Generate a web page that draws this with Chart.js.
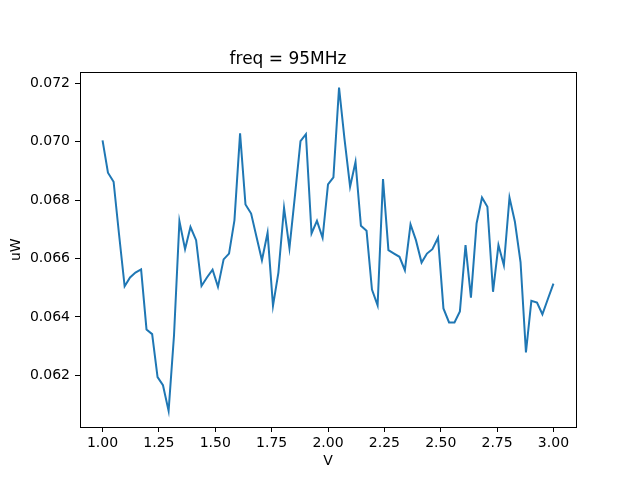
<!DOCTYPE html>
<html>
<head>
<meta charset="utf-8">
<script src="https://cdn.jsdelivr.net/npm/chart.js@4/dist/chart.umd.min.js"></script>
<style>
  html, body { margin: 0; padding: 0; background: #fff; }
  #chart { display: block; }
</style>
</head>
<body>
<canvas id="chart" width="640" height="480"></canvas>
<script>
// 电压 (V)
const voltage = [
  1.000, 1.024, 1.049, 1.073, 1.098, 1.122, 1.146, 1.171, 1.195, 1.220,
  1.244, 1.268, 1.293, 1.317, 1.341, 1.366, 1.390, 1.415, 1.439, 1.463,
  1.488, 1.512, 1.537, 1.561, 1.585, 1.610, 1.634, 1.659, 1.683, 1.707,
  1.732, 1.756, 1.780, 1.805, 1.829, 1.854, 1.878, 1.902, 1.927, 1.951,
  1.976, 2.000, 2.024, 2.049, 2.073, 2.098, 2.122, 2.146, 2.171, 2.195,
  2.220, 2.244, 2.268, 2.293, 2.317, 2.341, 2.366, 2.390, 2.415, 2.439,
  2.463, 2.488, 2.512, 2.537, 2.561, 2.585, 2.610, 2.634, 2.659, 2.683,
  2.707, 2.732, 2.756, 2.780, 2.805, 2.829, 2.854, 2.878, 2.902, 2.927,
  2.951, 2.976, 3.000
];

// 功率 (uW)
const power = [
  0.07005, 0.06894, 0.06863, 0.06684, 0.06505, 0.06535, 0.06552, 0.06563, 0.06357, 0.06341,
  0.06194, 0.06166, 0.06078, 0.06337, 0.06728, 0.06632, 0.06708, 0.06663, 0.06506, 0.06535,
  0.06562, 0.06503, 0.06597, 0.06617, 0.06731, 0.07029, 0.06785, 0.06754, 0.06674, 0.06594,
  0.06688, 0.06438, 0.06552, 0.06774, 0.06636, 0.06820, 0.07002, 0.07026, 0.06686, 0.06729,
  0.06671, 0.06854, 0.06878, 0.07186, 0.07011, 0.06846, 0.06931, 0.06712, 0.06695, 0.06494,
  0.06440, 0.06872, 0.06629, 0.06617, 0.06606, 0.06560, 0.06717, 0.06663, 0.06586, 0.06617,
  0.06632, 0.06671, 0.06429, 0.06381, 0.06381, 0.06419, 0.06646, 0.06466, 0.06720, 0.06809,
  0.06777, 0.06486, 0.06646, 0.06577, 0.06809, 0.06726, 0.06588, 0.06278, 0.06455, 0.06449,
  0.06409, 0.06463, 0.06514
];

// 刻度
const xTicks = [1.00, 1.25, 1.50, 1.75, 2.00, 2.25, 2.50, 2.75, 3.00];
const yTicks = [0.062, 0.064, 0.066, 0.068, 0.070, 0.072];

const points = voltage.map((v, i) => ({ x: v, y: power[i] }));

// 四边框
const frame = {
  id: 'frame',
  afterDraw(chart) {
    const { ctx, chartArea: a } = chart;
    ctx.save();
    ctx.strokeStyle = '#000';
    ctx.lineWidth = 1;
    ctx.strokeRect(Math.round(a.left) + 0.5, Math.round(a.top) + 0.5,
      Math.round(a.right - a.left), Math.round(a.bottom - a.top));
    ctx.restore();
  }
};

const font = { family: 'DejaVu Sans', size: 14 };

new Chart(document.getElementById('chart').getContext('2d'), {
  type: 'line',
  data: {
    datasets: [{
      label: 'uW',
      data: points,
      borderColor: '#1f77b4',
      borderWidth: 2,
      pointRadius: 0,
      tension: 0,
      fill: false
    }]
  },
  options: {
    responsive: false,
    animation: false,
    devicePixelRatio: 1,
    layout: { padding: { left: 0, right: 64, top: 0, bottom: 0 } },
    plugins: {
      legend: { display: false },
      tooltip: { enabled: false },
      title: {
        display: true,
        text: 'freq = 95MHz',
        color: '#000',
        font: { family: 'DejaVu Sans', size: 17, weight: 'normal' },
        padding: { top: 49, bottom: 3 }
      }
    },
    scales: {
      x: {
        type: 'linear',
        min: 0.9,
        max: 3.1,
        afterFit(scale) { scale.height = 53; },
        afterBuildTicks(scale) { scale.ticks = xTicks.map(v => ({ value: v })); },
        grid: { drawOnChartArea: false, drawTicks: true, tickLength: 5, color: '#000' },
        border: { color: '#000', width: 1 },
        ticks: {
          color: '#000',
          font: font,
          padding: 3,
          maxRotation: 0,
          callback: v => Number(v).toFixed(2)
        },
        title: { display: true, text: 'V', color: '#000', font: font, padding: { top: 0, bottom: 10 } }
      },
      y: {
        type: 'linear',
        min: 0.060228,
        max: 0.072377,
        afterFit(scale) { scale.width = 80; },
        afterBuildTicks(scale) { scale.ticks = yTicks.map(v => ({ value: v })); },
        grid: { drawOnChartArea: false, drawTicks: true, tickLength: 5, color: '#000' },
        border: { color: '#000', width: 1 },
        ticks: {
          color: '#000',
          font: font,
          padding: 5,
          callback: v => Number(v).toFixed(3)
        },
        title: { display: true, text: 'uW', color: '#000', font: font, padding: { top: 8, bottom: 0 } }
      }
    }
  },
  plugins: [frame]
});
</script>
</body>
</html>
